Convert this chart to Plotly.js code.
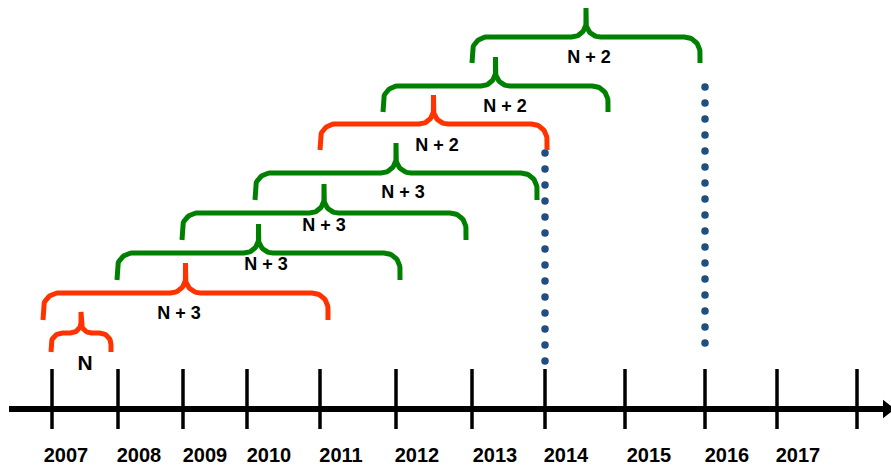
<!DOCTYPE html>
<html><head><meta charset="utf-8">
<script src="https://cdn.plot.ly/plotly-3.0.1.min.js"></script>
<style>html,body{margin:0;padding:0;background:#fff}</style>
</head><body><div id="chart" style="width:891px;height:472px"></div>
<script>
// ---- data (timeline-scale units) ----
const years = ['2007','2008','2009','2010','2011','2012','2013','2014','2015','2016','2017'];
const tickPos = [52,118,183,247,320,396,472,545,625,705,777,857];
const yearLabelPos = [66,139,205,269,341,417,495,566,649,727,798];
const braceLabels = ['N','N + 3','N + 3','N + 3','N + 3','N + 2','N + 2','N + 2'];
const braceKind = ['red','red','green','green','green','red','green','green'];
const braceStart = [51,43,117,182,255,320,383,472];
const braceEnd = [111,328,400,466,537,547,608,700];
const braceBase = [352,320,280,240,200,150,112,63];
const braceHeight = [40,57,56,56,57,55,55,55];
const braceLabelX = [85,179,266,324,403,437,505,589];
const braceLabelY = [365,314,265,226,193,146,107,58];
const dotX = [545,705];
const dotTop = [153,87];
const dotBottom = [361,343];

// ---- style ----
const COLORS = {red:'#FF3300', green:'#008000'};
const DOT_COLOR = '#1F4E80';
const FONT = 'Liberation Sans, Arial, sans-serif';
const AXIS_Y = 409;

const traces = [];

function arc(cx, cy, r, a0, a1, n) {
  const pts = [];
  for (let i = 0; i <= n; i++) {
    const a = a0 + (a1 - a0) * i / n;
    pts.push([cx + r * Math.cos(a), cy + r * Math.sin(a)]);
  }
  return pts;
}

function bracePath(x0, x1, base, h) {
  const mid = base - Math.round(h * 0.48);
  const peak = base - h;
  const xc = (x0 + x1) / 2;
  const re = Math.min(16, (base - mid) * 0.6);
  const rc = Math.min(15, (mid - peak) * 0.5);
  let pts = [[x0, base], [x0, mid + re]];
  pts = pts.concat(arc(x0 + re, mid + re, re, Math.PI, 1.5 * Math.PI, 16));
  pts.push([xc - rc, mid]);
  pts = pts.concat(arc(xc - rc, mid - rc, rc, 0.5 * Math.PI, 0, 16));
  pts.push([xc, peak]);
  pts.push([xc, mid - rc]);
  pts = pts.concat(arc(xc + rc, mid - rc, rc, Math.PI, 0.5 * Math.PI, 16));
  pts.push([x1 - re, mid]);
  pts = pts.concat(arc(x1 - re, mid + re, re, 1.5 * Math.PI, 2 * Math.PI, 16));
  pts.push([x1, base]);
  return {x: pts.map(p => p[0]), y: pts.map(p => p[1])};
}

// timeline axis line
traces.push({x:[tickPos[0]-43, tickPos[tickPos.length-1]+26], y:[AXIS_Y, AXIS_Y], mode:'lines',
  line:{color:'#000', width:6}, hoverinfo:'skip'});
// arrow head
traces.push({x:[tickPos[tickPos.length-1]+30], y:[AXIS_Y], mode:'markers',
  marker:{symbol:'triangle-right', size:16, color:'#000'}, hoverinfo:'skip'});
// ticks
const tx = [], ty = [];
tickPos.forEach(p => { tx.push(p, p, null); ty.push(AXIS_Y - 40, AXIS_Y + 20, null); });
traces.push({x:tx, y:ty, mode:'lines', line:{color:'#000', width:3.5}, hoverinfo:'skip'});
// year labels
traces.push({x: yearLabelPos, y: years.map(() => 457), mode:'text',
  text: years, textposition:'middle center',
  textfont:{family:FONT, size:20, color:'#000', weight:'bold'}, hoverinfo:'skip'});

// dotted lines
dotX.forEach((x, i) => {
  const ys = [];
  for (let y = dotTop[i]; y <= dotBottom[i] + 0.5; y += 16) ys.push(y);
  traces.push({x: ys.map(() => x), y: ys, mode:'markers',
    marker:{size:7.5, color:DOT_COLOR}, hoverinfo:'skip'});
});

// braces
braceLabels.forEach((lab, i) => {
  const p = bracePath(braceStart[i], braceEnd[i], braceBase[i], braceHeight[i]);
  traces.push({x:p.x, y:p.y, mode:'lines',
    line:{color:COLORS[braceKind[i]], width:5, shape:'linear'}, hoverinfo:'skip'});
  traces.push({x:[braceLabelX[i]], y:[braceLabelY[i]], mode:'text', text:[lab],
    textposition:'middle center',
    textfont:{family:FONT, size: lab === 'N' ? 21 : 18, color:'#000', weight:'bold'}, hoverinfo:'skip'});
});

const layout = {
  width:891, height:472, margin:{l:0, r:0, t:0, b:0},
  paper_bgcolor:'#fff', plot_bgcolor:'#fff', showlegend:false,
  xaxis:{range:[0,891], visible:false, fixedrange:true},
  yaxis:{range:[472,0], visible:false, fixedrange:true}
};
Plotly.newPlot('chart', traces, layout, {displayModeBar:false, staticPlot:true});
</script></body></html>
